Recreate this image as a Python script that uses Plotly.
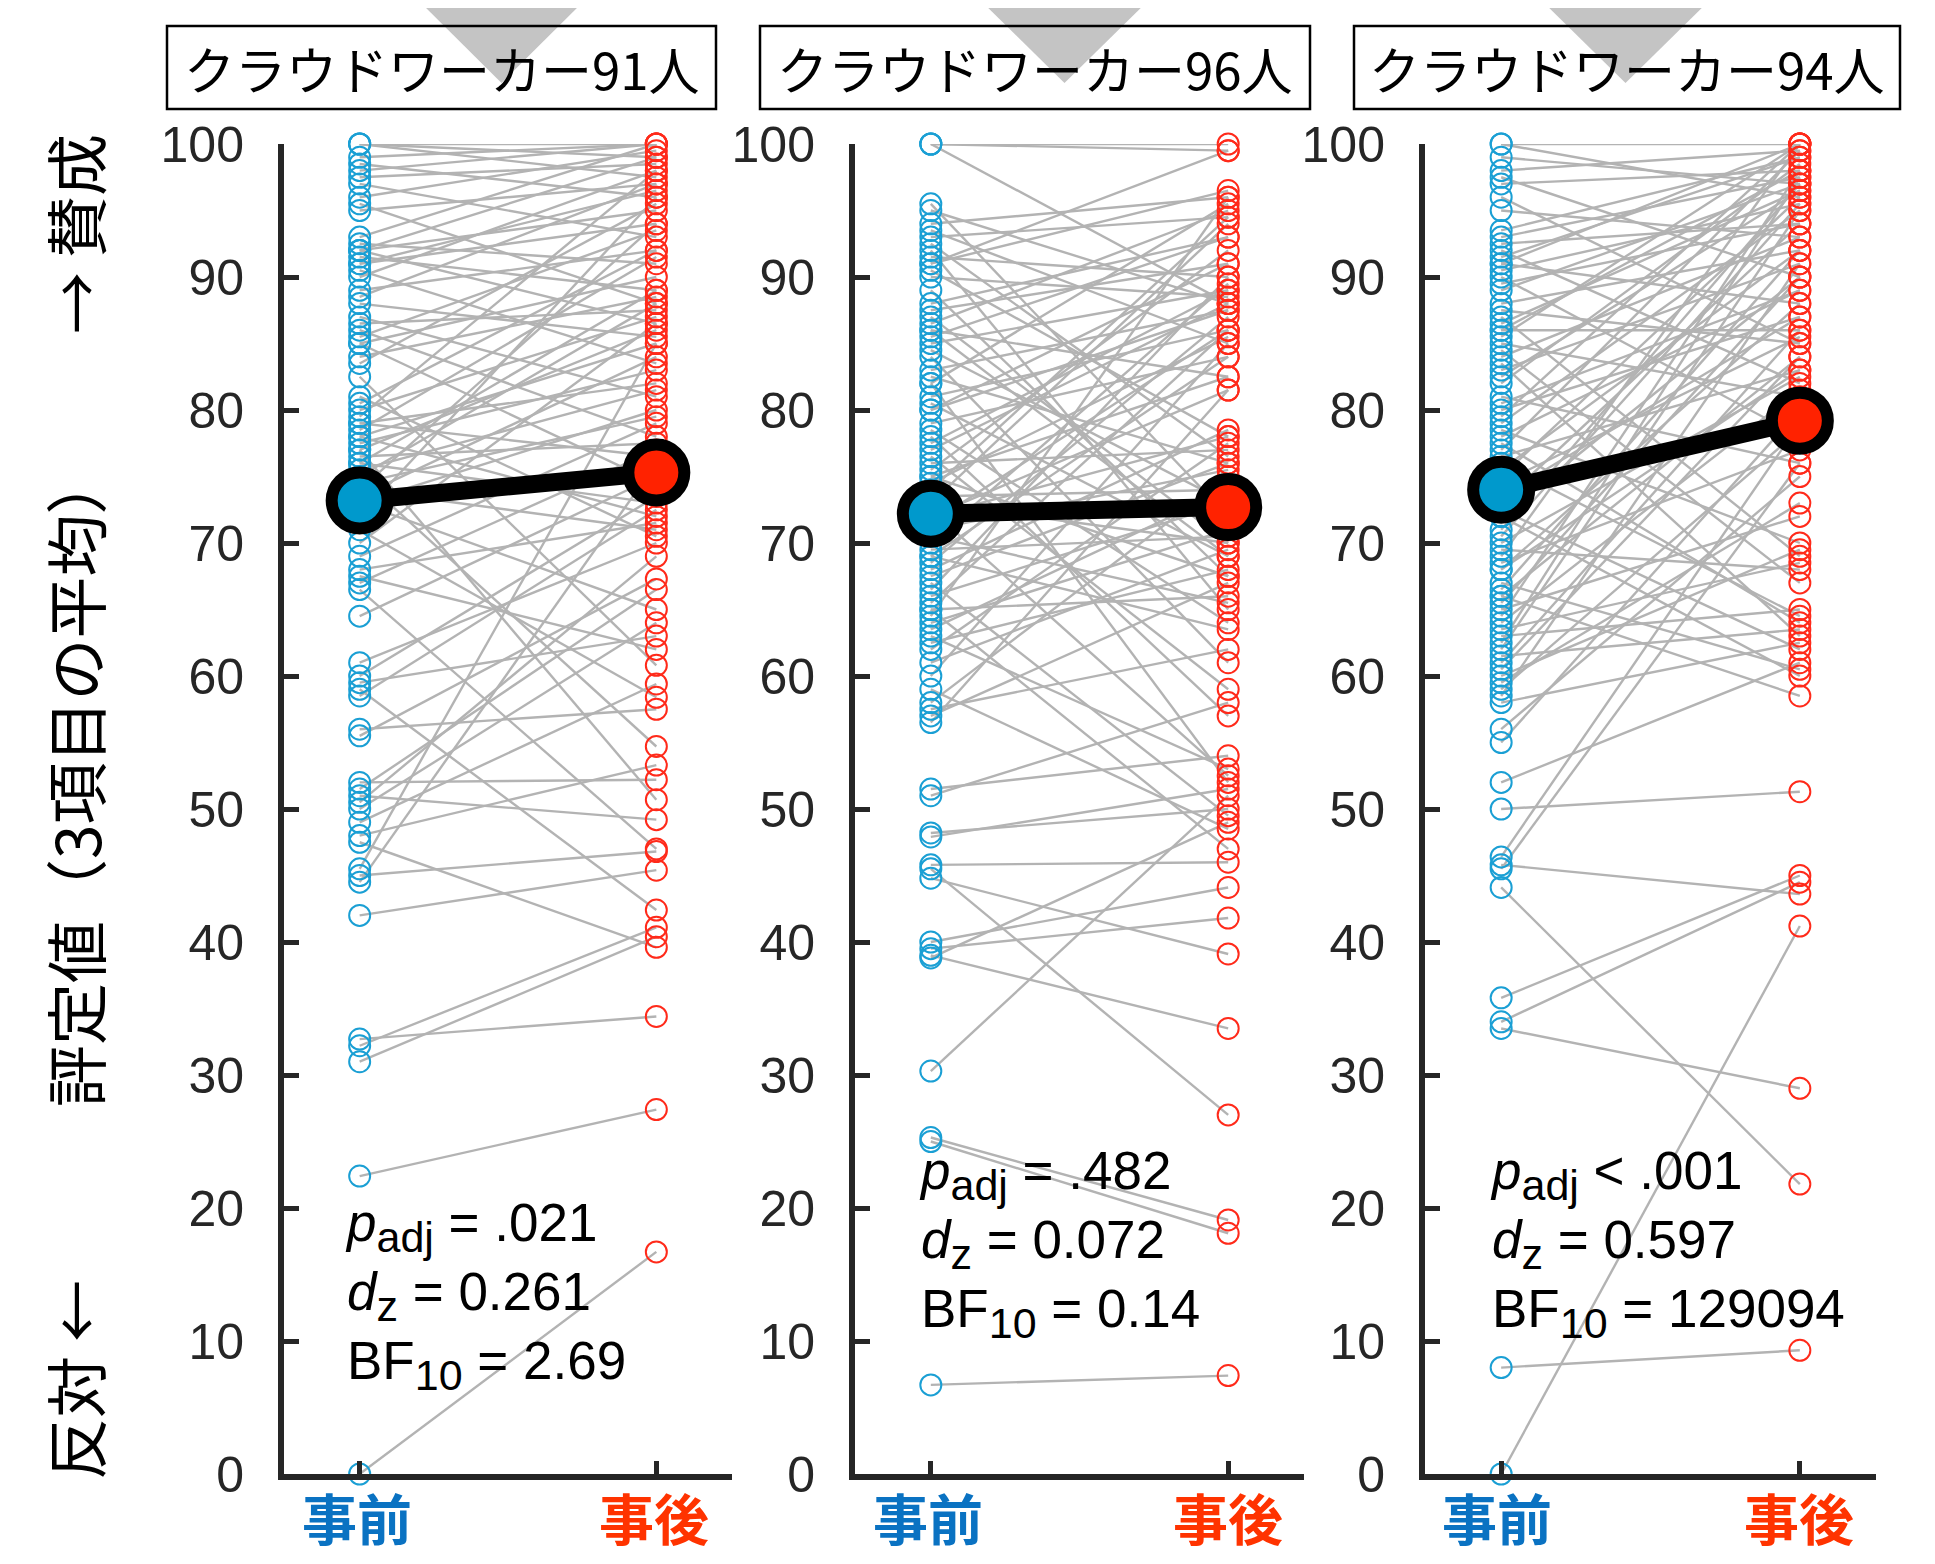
import plotly.graph_objects as go

# ---------------- data ----------------
titles = ["クラウドワーカー91人", "クラウドワーカー96人", "クラウドワーカー94人"]
x_labels = ["事前", "事後"]
y_ticks = [0, 10, 20, 30, 40, 50, 60, 70, 80, 90, 100]

pre_1 = [100, 100, 100, 99, 98.5, 98, 97.5, 97, 96, 95.5, 95, 93, 92.5, 92, 92, 92, 91.5, 91, 91, 90.5,
         90, 89, 88.5, 88, 87, 86.5, 86, 85.5, 85, 85, 84, 83.5, 82.5, 81, 80.5, 80, 79.5, 79, 79, 78.5,
         78, 78, 77.5, 77, 77, 76.5, 76, 76, 75.5, 75, 75, 74.5, 74, 74, 73.5, 73, 73, 72.5, 72, 71,
         70, 69, 68, 67.5, 67, 66.5, 64.5, 61, 60, 59.5, 59, 58.5, 56, 55.5, 52, 51.5, 51, 50.5, 50, 49,
         48, 47.5, 45.5, 45, 44.5, 42, 32.7, 32.2, 31, 22.4, 0]
post_1 = [100, 97.5, 99, 100, 96, 100, 98.5, 93, 99.5, 88, 97, 100, 91, 95, 86.5, 99, 89, 94, 96.5, 83.5,
          98, 92, 97, 85.5, 81, 87.5, 78, 93.5, 90, 74.5, 88.5, 95.5, 60.8, 70.5, 92, 87, 98, 76.5, 82, 91.5,
          72, 85, 83, 50.7, 86, 77.5, 89, 73, 81.5, 88, 54.7, 79.5, 71, 94, 84, 65, 80, 75.5, 96, 58.4,
          86.5, 79, 71.5, 62, 77, 47, 75, 70, 73.5, 63, 42.4, 72.5, 57.5, 67.3, 52.2, 66.5, 49.2, 69, 64, 59.4,
          53.3, 39.6, 85, 46.8, 76, 45.4, 34.4, 41.1, 40.4, 27.4, 16.7]

pre_2 = [100, 100, 100, 95.5, 94, 93.5, 93, 92, 91.5, 91, 90.5, 90, 88, 87, 86.5, 86, 85, 84, 83, 82.5,
         82, 81, 80.5, 80, 79, 78, 77, 76, 75.5, 75, 74.5, 73.5, 73, 72.5, 72, 71, 70, 69.5, 69, 68.5,
         68, 67, 66, 65.5, 65, 64.5, 64, 63, 62, 61, 60, 59, 58, 57.5, 57, 56.5, 51.5, 51, 48.2, 47.9,
         45.8, 45.5, 44.8, 40, 39.5, 39, 38.8, 30.3, 25.3, 25, 6.7, 95, 92.5, 91, 89, 87.5, 86, 85.5, 84.5, 82,
         80, 78.5, 77.5, 76.5, 75, 74, 73, 72, 71.5, 70.5, 69, 67.5, 66.5, 65, 63.5, 62.5]
post_2 = [99.5, 100, 88, 72, 96, 85, 94.5, 65, 90, 96.5, 78, 88.5, 93, 70, 95, 82.5, 89, 61, 87.5, 76,
          95.5, 86, 69, 91, 84, 57, 88, 77, 92, 67.5, 85.5, 74, 94, 52.5, 81.5, 75.5, 89.5, 70.5, 63.5, 87,
          78.5, 49.5, 73, 86, 66, 96, 71, 53, 77.5, 69.5, 85, 48.5, 75, 62, 67, 81.5, 54, 58, 50, 51.5,
          46, 27, 39.1, 44.1, 41.8, 33.5, 49, 51, 19.1, 18.1, 7.4, 88, 76.5, 99.5, 67.5, 91, 69, 93, 73, 52,
          87.5, 64, 89, 59, 82.5, 94.5, 70, 78, 86, 65.5, 84, 76, 90, 47, 74, 68]

pre_3 = [100, 100, 98, 97.5, 97, 96, 93, 92.5, 92, 91.5, 91, 90.5, 90, 89, 88, 87, 86.5, 86, 85.5, 85,
         84, 83.5, 83, 82, 81, 80, 79, 78.5, 78, 77, 76.5, 76, 75, 74.5, 74, 73, 72.5, 72, 71, 70,
         69.5, 69, 68.5, 68, 67, 66.5, 66, 65, 64.5, 64, 63, 62, 61.5, 61, 60, 59, 58.5, 58, 56, 55,
         52, 50, 46.4, 45.8, 45.5, 44.1, 35.8, 34, 33.5, 8, 0, 99, 95, 93.5, 91, 89.5, 87.5, 86, 84.5, 82.5,
         80.5, 79.5, 77.5, 75.5, 73.5, 72, 70.5, 68, 66, 65.5, 63.5, 62.5, 60.5, 59.5]
post_3 = [100, 96, 99.5, 90, 98, 85, 97.5, 94, 82, 99, 88, 95.5, 78, 97, 92, 69, 96.5, 86, 100, 81,
          93, 63, 91, 98.5, 76, 87, 95, 70, 89, 99.5, 83, 64.5, 96, 85.5, 79, 94, 62, 90, 97, 82.5,
          68, 100, 77, 88, 60.5, 92, 84, 72, 98, 81.5, 65, 95, 63.5, 86, 69.5, 78.5, 91, 62.5, 75, 80,
          61, 51.3, 79, 43.6, 76, 21.8, 45, 44.5, 29, 9.3, 41.2, 97, 93, 99, 100, 94, 85, 98, 67, 96.5,
          89, 100, 64, 92, 87, 60, 95.5, 83, 58.5, 90, 68.5, 97.5, 84, 73]

mean_pre = [73.2, 72.2, 74.0]
mean_post = [75.3, 72.7, 79.2]

SUB = '<sub><span style="font-size:43px">{}</span></sub>'
stats = [
    ["<i>p</i>" + SUB.format("adj") + " = .021", "<i>d</i>" + SUB.format("z") + " = 0.261",
     "BF" + SUB.format("10") + " = 2.69"],
    ["<i>p</i>" + SUB.format("adj") + " = .482", "<i>d</i>" + SUB.format("z") + " = 0.072",
     "BF" + SUB.format("10") + " = 0.14"],
    ["<i>p</i>" + SUB.format("adj") + " &lt; .001", "<i>d</i>" + SUB.format("z") + " = 0.597",
     "BF" + SUB.format("10") + " = 129094"],
]

pres = [pre_1, pre_2, pre_3]
posts = [post_1, post_2, post_3]

# ---------------- layout helpers (screen pixels) ----------------
W, H, OFF = 1919, 1548, 8


def fx(px):
    return (px - OFF) / W


def fy(py):
    return 1 - (py - OFF) / H


x_dom = [(284, 732), (855, 1304), (1425, 1876)]
y_dom = (1474, 144)
pre_px = [357, 928, 1497]
post_px = [654, 1228, 1799]
box_px = [(167, 716), (760, 1310), (1354, 1900)]
tri_px = [(413, 590), (975, 1154), (1536, 1715)]
stat_pos = [(343, 1296), (917, 1244), (1488, 1244)]

BLUE_O = "#1a9fd4"
RED_O = "#ff2a1a"
BLUE_F = "#0099cc"
RED_F = "#ff2200"
AX = "#262626"

fig = go.Figure()
layout = dict(
    width=W, height=H, margin=dict(l=0, r=0, t=0, b=0, pad=0, autoexpand=False),
    paper_bgcolor="white", plot_bgcolor="rgba(0,0,0,0)",
    showlegend=False, shapes=[], annotations=[],
)

for i in range(3):
    xa = "x" if i == 0 else f"x{i+1}"
    ya = "y" if i == 0 else f"y{i+1}"
    pre, post = pres[i], posts[i]
    lx, ly = [], []
    for a, b in zip(pre, post):
        lx += [1, 2, None]
        ly += [a, b, None]
    fig.add_trace(go.Scatter(x=lx, y=ly, mode="lines", xaxis=xa, yaxis=ya,
                             line=dict(color="#b3b3b3", width=2.4), cliponaxis=False, hoverinfo="skip"))
    fig.add_trace(go.Scatter(x=[1] * len(pre), y=pre, mode="markers", xaxis=xa, yaxis=ya, cliponaxis=False,
                             marker=dict(symbol="circle-open", size=21, color=BLUE_O, line=dict(width=2))))
    fig.add_trace(go.Scatter(x=[2] * len(post), y=post, mode="markers", xaxis=xa, yaxis=ya, cliponaxis=False,
                             marker=dict(symbol="circle-open", size=21, color=RED_O, line=dict(width=2))))
    fig.add_trace(go.Scatter(x=[1, 2], y=[mean_pre[i], mean_post[i]], mode="lines+markers",
                             xaxis=xa, yaxis=ya, cliponaxis=False,
                             line=dict(color="black", width=18),
                             marker=dict(size=56, color=[BLUE_F, RED_F], line=dict(color="black", width=12))))

    axis_common = dict(showline=True, linewidth=6, linecolor=AX, mirror=False, showgrid=False,
                       zeroline=False, ticks="inside", tickwidth=5, tickcolor=AX, fixedrange=True,
                       automargin=False)
    layout["xaxis" if i == 0 else f"xaxis{i+1}"] = dict(
        domain=[fx(x_dom[i][0]), fx(x_dom[i][1])], range=[0.745, 2.255], anchor=ya,
        tickvals=[1, 2], showticklabels=False, ticklen=13, **axis_common)
    layout["yaxis" if i == 0 else f"yaxis{i+1}"] = dict(
        domain=[fy(y_dom[0]), fy(y_dom[1])], range=[0, 100], anchor=xa, ticklen=15,
        tickvals=y_ticks, ticktext=[str(t) for t in y_ticks], ticklabelstandoff=24,
        tickfont=dict(family="Liberation Sans, Arial", size=50, color=AX), **axis_common)

    # gray triangle marks at top
    t0, t1 = tri_px[i]
    apex = (t0 + t1) / 2
    layout["shapes"].append(dict(
        type="path", xref="paper", yref="paper", layer="below", line=dict(width=0),
        fillcolor="#c4c4c4",
        path=f"M {fx(t0)} {fy(-5)} L {fx(t1)} {fy(-5)} L {fx(apex)} {fy(83)} Z"))
    # title box
    b0, b1 = box_px[i]
    layout["shapes"].append(dict(
        type="rect", xref="paper", yref="paper", layer="above",
        x0=fx(b0), x1=fx(b1), y0=fy(109), y1=fy(26),
        line=dict(color="black", width=2.5), fillcolor="rgba(0,0,0,0)"))
    layout["annotations"].append(dict(
        text=titles[i], xref="paper", yref="paper", x=fx((b0 + b1) / 2), y=fy(68),
        xanchor="center", yanchor="middle", showarrow=False,
        font=dict(family="Noto Sans CJK JP", size=51, color="black")))
    # x category labels
    for lab, px, col in ((x_labels[0], pre_px[i], "#0a72c2"), (x_labels[1], post_px[i], "#ff3300")):
        layout["annotations"].append(dict(
            text=f"<b>{lab}</b>", xref="paper", yref="paper", x=fx(px), y=fy(1516),
            xanchor="center", yanchor="middle", showarrow=False,
            font=dict(family="Noto Sans CJK JP", size=55, color=col)))
    # stats text
    sx, sy = stat_pos[i]
    layout["annotations"].append(dict(
        text="<br>".join(stats[i]), xref="paper", yref="paper", x=fx(sx), y=fy(sy),
        xanchor="left", yanchor="middle", align="left", showarrow=False,
        font=dict(family="Liberation Sans, Arial", size=53, color="black")))

# y-axis title pieces (rotated)
for txt, py in (("→ 賛成", 234), ("評定値（3項目の平均）", 780), ("反対 ←", 1380)):
    layout["annotations"].append(dict(
        text=txt, xref="paper", yref="paper", x=fx(74), y=fy(py), textangle=-90,
        xanchor="center", yanchor="middle", showarrow=False,
        font=dict(family="Noto Sans CJK JP", size=62, color="black")))

fig.update_layout(**layout)
fig.write_html("out.html")
